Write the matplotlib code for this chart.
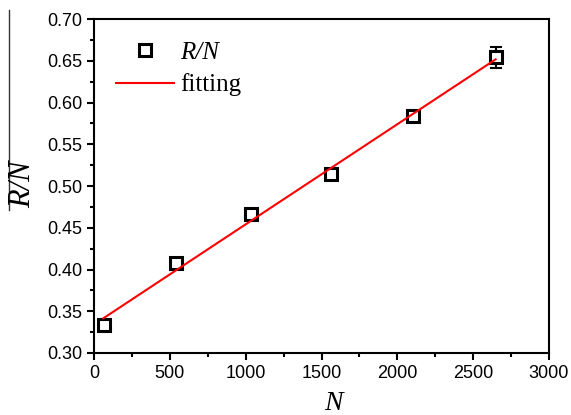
import numpy as np
import matplotlib
matplotlib.use('Agg')
import matplotlib.pyplot as plt
from matplotlib.lines import Line2D
from matplotlib.ticker import MultipleLocator, FormatStrFormatter

# data
N = [66, 538, 1033, 1560, 2105, 2648]
RN = [0.3335, 0.4074, 0.467, 0.514, 0.584, 0.654]
RN_err = [0, 0, 0, 0, 0, 0.0125]
fit_x = [61, 2648]
fit_y = [0.3415, 0.6517]

fig = plt.figure(figsize=(5.71, 4.15), dpi=100)
ax = fig.add_axes([0.1646, 0.1494, 0.7969, 0.8048])

ax.errorbar(N, RN, yerr=RN_err, fmt='none', ecolor='black',
            elinewidth=1.5, capsize=4, capthick=1.5, zorder=3)
ax.plot(N, RN, 's', mfc='white', mec='black', ms=8.5, mew=2.2,
        label='R/N', zorder=3)
ax.plot(fit_x, fit_y, color='red', lw=1.5, label='fitting', zorder=4)

ax.set_xlim(0, 3000)
ax.set_ylim(0.30, 0.70)
ax.xaxis.set_major_locator(MultipleLocator(500))
ax.xaxis.set_minor_locator(MultipleLocator(250))
ax.yaxis.set_major_locator(MultipleLocator(0.05))
ax.yaxis.set_minor_locator(MultipleLocator(0.025))
ax.yaxis.set_major_formatter(FormatStrFormatter('%.2f'))

for s in ax.spines.values():
    s.set_linewidth(1.5)
ax.tick_params(which='both', direction='out', width=1.5, top=False, right=False)
ax.tick_params(which='major', length=5, labelsize=13)
ax.tick_params(which='minor', length=3)
for lab in ax.get_xticklabels() + ax.get_yticklabels():
    lab.set_family('Liberation Sans')

fig.text(333 / 571, 1 - 403 / 415, 'N', family='Liberation Serif', style='italic',
         fontsize=20, ha='center', va='center')
fig.text(23 / 571, 1 - 184 / 415, 'R/N', family='Liberation Serif', style='italic',
         fontsize=22, rotation=90, ha='center', va='center')
# overbar of the y label
fig.add_artist(Line2D([9.3 / 571, 9.3 / 571], [1 - 10 / 415, 1 - 210 / 415],
                      color='#333333', lw=1.0))

leg = ax.legend(loc='upper left', bbox_to_anchor=(0.0, 1.0), frameon=False,
                prop={'family': 'Liberation Serif', 'size': 18},
                handlelength=2.3, handletextpad=0.25, labelspacing=0.38)
leg.get_texts()[0].set_style('italic')

fig.savefig('out.png', dpi=100)
